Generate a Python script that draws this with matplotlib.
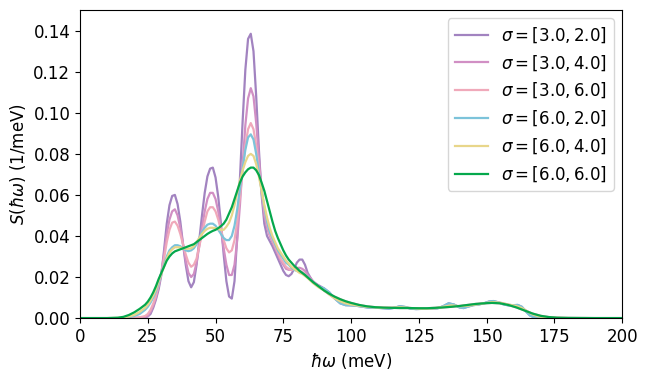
import matplotlib
matplotlib.use("Agg")
import matplotlib.pyplot as plt

# shared low-energy grid (meV)
energy_low = [0, 10, 14, 16, 18, 20, 22, 24, 25, 26,
              27, 28, 29, 30, 31, 32, 33, 34, 35, 36,
              37, 38, 39, 40, 41, 42, 43, 44, 45, 46,
              47, 48, 49, 50, 51, 52, 53, 54, 55, 56,
              57, 58, 59, 60, 61, 62, 63, 64, 65, 66,
              67, 68, 69, 70, 71, 72, 73, 74, 75, 76,
              77, 78, 79, 80, 81, 82, 83, 84, 86, 88]

s32_low = [0, 0, 0, 0, 0, 0, 0.0001, 0.0003, 0.0008, 0.002,
           0.005, 0.009, 0.014, 0.021, 0.033, 0.046, 0.055, 0.0595, 0.060, 0.0555,
           0.047, 0.036, 0.026, 0.018, 0.015, 0.0175, 0.026, 0.038, 0.050, 0.061,
           0.069, 0.0728, 0.0733, 0.0685, 0.059, 0.046, 0.031, 0.018, 0.0105, 0.0095,
           0.018, 0.040, 0.068, 0.096, 0.121, 0.136, 0.1385, 0.130, 0.108, 0.082,
           0.060, 0.046, 0.040, 0.0375, 0.035, 0.032, 0.029, 0.026, 0.023, 0.021,
           0.0204, 0.0215, 0.024, 0.027, 0.0285, 0.0285, 0.026, 0.022, 0.0175, 0.016]

s34_low = [0, 0, 0, 0, 0, 0, 0.0002, 0.0005, 0.001, 0.003,
           0.006, 0.010, 0.016, 0.022, 0.031, 0.041, 0.048, 0.052, 0.053, 0.050,
           0.044, 0.036, 0.028, 0.022, 0.020, 0.0215, 0.027, 0.035, 0.044, 0.052,
           0.058, 0.061, 0.061, 0.058, 0.052, 0.043, 0.034, 0.026, 0.021, 0.021,
           0.026, 0.038, 0.055, 0.075, 0.094, 0.107, 0.112, 0.108, 0.095, 0.078,
           0.062, 0.050, 0.044, 0.040, 0.037, 0.034, 0.031, 0.028, 0.026, 0.024,
           0.0235, 0.0235, 0.024, 0.0245, 0.0245, 0.024, 0.023, 0.021, 0.018, 0.0157]

s36_low = [0, 0, 0, 0, 0, 0.0001, 0.0004, 0.001, 0.002, 0.004,
           0.007, 0.011, 0.016, 0.022, 0.029, 0.037, 0.043, 0.0465, 0.047, 0.045,
           0.041, 0.036, 0.031, 0.027, 0.025, 0.026, 0.029, 0.035, 0.041, 0.047,
           0.052, 0.054, 0.054, 0.052, 0.048, 0.043, 0.038, 0.034, 0.032, 0.033,
           0.038, 0.047, 0.059, 0.072, 0.084, 0.092, 0.095, 0.092, 0.084, 0.073,
           0.062, 0.053, 0.046, 0.041, 0.038, 0.035, 0.032, 0.029, 0.027, 0.025,
           0.024, 0.0235, 0.0235, 0.0235, 0.023, 0.0225, 0.0215, 0.020, 0.0175, 0.0155]

s62_low = [0, 0, 0, 0.0002, 0.0005, 0.001, 0.002, 0.004, 0.0055, 0.0075,
           0.010, 0.013, 0.017, 0.022, 0.026, 0.030, 0.033, 0.0345, 0.0355, 0.0355,
           0.035, 0.034, 0.033, 0.0326, 0.033, 0.034, 0.036, 0.039, 0.042, 0.044,
           0.0455, 0.046, 0.046, 0.045, 0.043, 0.041, 0.039, 0.038, 0.038, 0.040,
           0.045, 0.053, 0.063, 0.073, 0.082, 0.088, 0.0895, 0.087, 0.080, 0.071,
           0.062, 0.054, 0.047, 0.042, 0.039, 0.036, 0.033, 0.031, 0.029, 0.027,
           0.026, 0.0245, 0.0235, 0.023, 0.0225, 0.022, 0.021, 0.020, 0.0175, 0.0155]

s64_low = [0, 0, 0.0001, 0.0003, 0.0008, 0.0015, 0.003, 0.005, 0.0065, 0.0085,
           0.011, 0.014, 0.018, 0.0215, 0.025, 0.029, 0.032, 0.0335, 0.0345, 0.0345,
           0.0345, 0.034, 0.0338, 0.0338, 0.034, 0.035, 0.037, 0.039, 0.041, 0.0425,
           0.0435, 0.044, 0.044, 0.0438, 0.0433, 0.043, 0.043, 0.0445, 0.0465, 0.050,
           0.055, 0.061, 0.067, 0.072, 0.076, 0.079, 0.080, 0.079, 0.075, 0.069,
           0.062, 0.055, 0.049, 0.044, 0.040, 0.037, 0.034, 0.032, 0.030, 0.028,
           0.0265, 0.025, 0.024, 0.023, 0.022, 0.0215, 0.0205, 0.0195, 0.017, 0.015]

s66_low = [0, 0, 0.0002, 0.0006, 0.0015, 0.0028, 0.0045, 0.0065, 0.008, 0.010,
           0.0125, 0.0155, 0.019, 0.022, 0.025, 0.028, 0.030, 0.0315, 0.0325, 0.033,
           0.0335, 0.034, 0.0345, 0.035, 0.0355, 0.036, 0.037, 0.038, 0.039, 0.040,
           0.041, 0.0418, 0.0425, 0.043, 0.0438, 0.0448, 0.046, 0.048, 0.051, 0.054,
           0.058, 0.062, 0.066, 0.069, 0.071, 0.0725, 0.0733, 0.0733, 0.072, 0.0697,
           0.066, 0.062, 0.057, 0.052, 0.047, 0.0425, 0.039, 0.036, 0.033, 0.0305,
           0.0285, 0.027, 0.0255, 0.0243, 0.023, 0.022, 0.021, 0.0198, 0.0175, 0.0155]

# high-energy tails, grouped by second width
energy_tail_s2 = [90, 92, 94, 96, 98, 100, 102, 104, 106, 108, 110, 112, 114, 116, 118,
                  120, 122, 124, 126, 128, 130, 132, 134, 136, 138, 140, 141.5, 143, 145,
                  147, 149, 151, 152.5, 154, 156, 158, 160, 161.5, 163, 164.5, 166, 167.5,
                  170, 175, 200]
tail_s2 = [0.0145, 0.0125, 0.0095, 0.0072, 0.0063, 0.0062, 0.006, 0.0056, 0.0052, 0.005,
           0.005, 0.0048, 0.0046, 0.005, 0.0058, 0.0054, 0.0046, 0.0044, 0.0045, 0.0046,
           0.0046, 0.0048, 0.0058, 0.0072, 0.0066, 0.0052, 0.0049, 0.0055, 0.0063, 0.0066,
           0.0072, 0.0081, 0.0083, 0.0078, 0.0068, 0.0062, 0.0063, 0.0064, 0.0055, 0.0033,
           0.0013, 0.0004, 0.0001, 0, 0]

energy_tail_s4 = [90, 92, 94, 96, 98, 100, 103, 106, 109, 112, 115, 118, 121, 125, 128,
                  131, 134, 137, 140, 143, 146, 149, 152, 155, 158, 161, 163, 165, 167,
                  169, 172, 176, 180, 200]
tail_s4 = [0.0135, 0.0115, 0.0096, 0.0082, 0.0072, 0.0066, 0.006, 0.0055, 0.0052, 0.005,
           0.005, 0.0053, 0.005, 0.0046, 0.0046, 0.0048, 0.0055, 0.0062, 0.0058, 0.006,
           0.0066, 0.0072, 0.0078, 0.0075, 0.0066, 0.0059, 0.0049, 0.0033, 0.0018, 0.0009,
           0.0003, 0.0001, 0, 0]

energy_tail_s6 = [90, 92, 94, 96, 98, 100, 103, 106, 109, 112, 115, 118, 121, 125, 128,
                  131, 134, 137, 140, 143, 146, 149, 152, 155, 158, 161, 164, 167, 170,
                  173, 176, 180, 190, 200]
tail_s6 = [0.0135, 0.0118, 0.0104, 0.0092, 0.0082, 0.0074, 0.0064, 0.0057, 0.0053, 0.0051,
           0.0050, 0.0049, 0.0049, 0.0048, 0.0048, 0.0050, 0.0052, 0.0055, 0.0059, 0.0064,
           0.0069, 0.0072, 0.0074, 0.0072, 0.0064, 0.0052, 0.0037, 0.0022, 0.0011, 0.0005,
           0.0002, 0.0001, 0, 0]

labels = [r"$\sigma = [3.0, 2.0]$", r"$\sigma = [3.0, 4.0]$", r"$\sigma = [3.0, 6.0]$",
          r"$\sigma = [6.0, 2.0]$", r"$\sigma = [6.0, 4.0]$", r"$\sigma = [6.0, 6.0]$"]
colors = ["#a283c0", "#d18fc4", "#f0a9ba", "#7cc3da", "#e8d68a", "#05a84c"]

series = [
    (energy_low + energy_tail_s2, s32_low + tail_s2),
    (energy_low + energy_tail_s4, s34_low + tail_s4),
    (energy_low + energy_tail_s6, s36_low + tail_s6),
    (energy_low + energy_tail_s2, s62_low + tail_s2),
    (energy_low + energy_tail_s4, s64_low + tail_s4),
    (energy_low + energy_tail_s6, s66_low + tail_s6),
]

fig = plt.figure(figsize=(6.48, 3.76), dpi=100)
ax = fig.add_axes([0.1235, 0.154, 0.8365, 0.819])
for (x, y), lab, c in zip(series, labels, colors):
    ax.plot(x, y, color=c, lw=1.6, label=lab)

ax.set_xlim(0, 200)
ax.set_ylim(0, 0.15)
ax.set_xticks([0, 25, 50, 75, 100, 125, 150, 175, 200])
ax.set_yticks([0.00, 0.02, 0.04, 0.06, 0.08, 0.10, 0.12, 0.14])
ax.tick_params(labelsize=12)
ax.set_xlabel(r"$\hbar\omega$ (meV)", fontsize=12)
ax.set_ylabel(r"$S(\hbar\omega)$ (1/meV)", fontsize=12)
ax.legend(loc="upper right", fontsize=12)
fig.savefig("out.png", dpi=100)
